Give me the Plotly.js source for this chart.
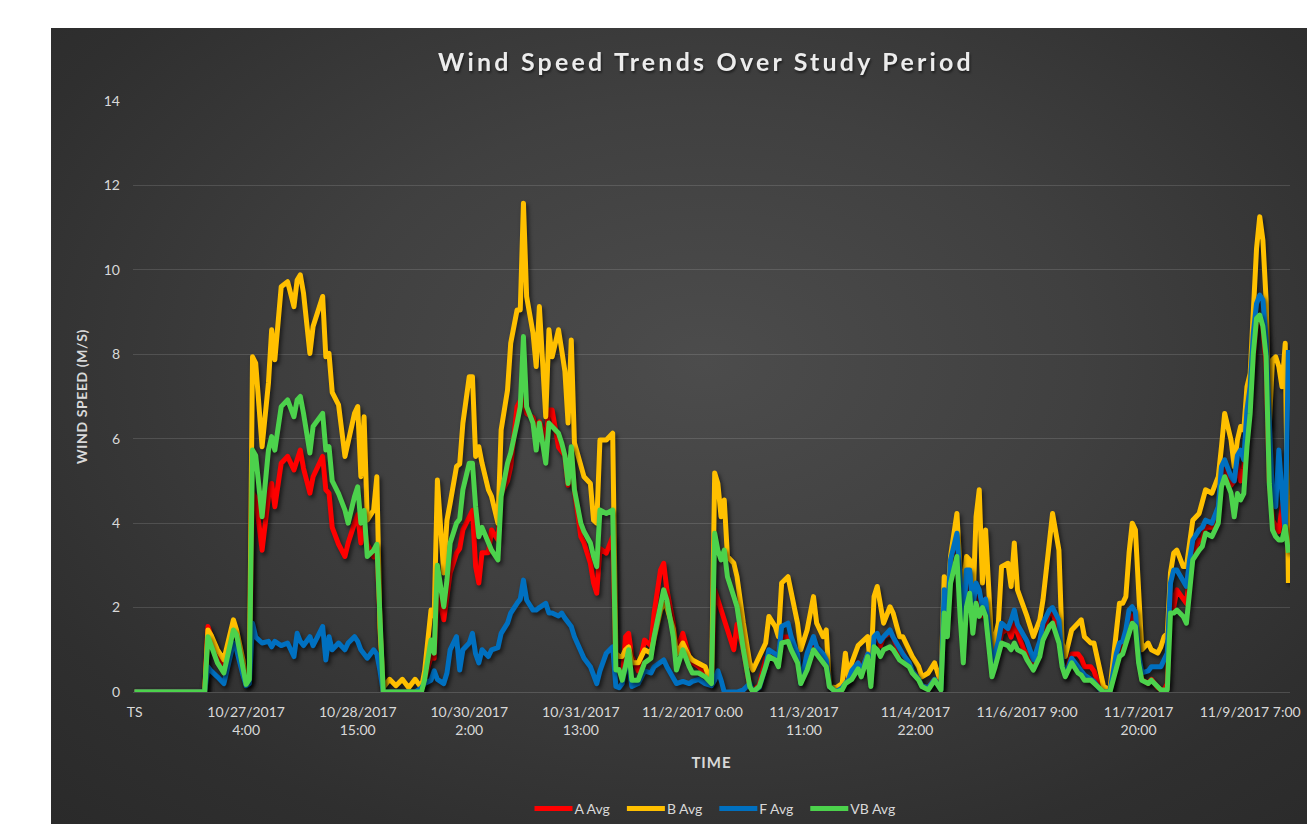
<!DOCTYPE html>
<html>
<head>
<meta charset="utf-8">
<script src="https://cdn.plot.ly/plotly-3.0.1.min.js"></script>
<style>
  html, body { margin: 0; padding: 0; background: #ffffff; }
  #wrap { position: relative; width: 1307px; height: 824px; overflow: hidden; }
  #bg { position: absolute; left: 51px; top: 28px; width: 1256px; height: 796px;
        background: radial-gradient(ellipse 75% 80% at 52% 42%, #4c4c4c 0%, #404040 40%, #2f2f2f 80%, #2a2a2a 100%); }
  #chart { position: absolute; left: 0; top: 0; width: 1307px; height: 824px; }
  #chart .scatterlayer .js-line { filter: drop-shadow(2px 3px 2px rgba(0,0,0,0.6)); stroke-linejoin: round; }
  #chart .gtitle { letter-spacing: 3.2px; filter: drop-shadow(1px 2px 1px rgba(0,0,0,0.5)); }
  #chart .ytitle { letter-spacing: 0.6px; }
  #chart .xtitle { letter-spacing: 1px; }
</style>
</head>
<body>
<div id="wrap">
  <div id="bg"></div>
  <div id="chart"></div>
</div>
<script>
// Hour index since the first record ("TS")
const hours = [0,22,23,24,26,28,31,32,34,35,36,37,38,40,42,43,44,46,48,50,51,52,53,55,56,59,60,61,62,64,66,67,69,70,71,72,73,75,76,77,78,80,82,84,86,88,90,91,93,94,95,97,98,99,101,102,103,105,106,107,108,109,111,112,114,115,117,118,120,121,122,123,125,126,127,129,130,131,133,134,135,136,137,138,140,141,143,144,145,146,148,150,151,152,153,154,155,156,158,160,162,163,165,166,167,169,170,172,174,175,177,179,181,182,183,184,185,186,188,189,191,193,194,196,198,199,201,202,203,205,206,208,209,211,213,214,216,217,218,220,222,223,224,225,227,228,230,231,232,233,234,235,237,238,240,241,243,244,246,247,249,251,253,254,255,256,258,259,260,261,262,263,264,265,266,267,269,270,271,272,274,275,276,277,279,280,282,284,285,287,288,290,291,292,294,296,297,298,300,301,303,304,306,308,309,310,311,312,313,314,315,316,318,319,321,322,323,324,325,326,327,329,330,331,332,334,335,336,338,340,341,342,344,345,346,347,348,349,350,351,352,353,354,355,356,357,358,359,360,361,362];

const aAvg = [0,0,1.55,1.3,0.9,0.55,1.55,1.4,0.6,0.2,0.3,4.71,4.6,3.36,4.63,4.94,4.39,5.42,5.58,5.26,5.5,5.73,5.3,4.71,5.1,5.58,4.79,4.71,3.9,3.5,3.21,3.53,4.0,4.2,3.53,3.9,3.5,3.2,3.4,1.5,0,0,0,0,0,0,0,0.3,0.84,0.8,2.4,1.71,2.18,2.82,3.29,3.4,3.84,4.15,4.3,2.97,2.58,3.3,3.3,3.84,3.6,4.7,5.0,5.34,6.76,6.9,6.92,6.6,6.5,6.2,6.4,6.0,6.68,6.68,5.8,5.7,5.6,4.9,5.7,4.79,3.68,3.53,3.05,2.58,2.34,3.4,3.29,3.68,0.6,0.5,0.3,1.31,1.39,0.84,0.5,1.23,1.1,1.87,2.89,3.05,2.42,1.63,1.0,1.39,0.84,0.7,0.6,0.45,0.2,2.42,2.18,2.0,1.79,1.47,1.0,1.6,1.0,0.13,0.05,0.15,0.8,0.8,0.9,0.7,1.3,1.3,1.1,0.8,0.3,0.8,1.2,1.0,0.8,0.7,0.13,0,0.05,0.3,0.25,0.5,0.7,0.5,0.9,0.2,1.3,1.3,1.1,1.3,1.4,1.3,0.92,0.92,0.65,0.5,0.3,0.15,0.1,0.3,0.05,2.2,1.7,2.8,3.3,2.3,1.0,2.5,2.5,2.0,2.0,2.3,1.8,2.2,0.5,0.8,1.0,1.4,1.5,1.3,1.6,1.4,1.0,0.9,0.6,1.0,1.4,1.9,1.9,1.4,0.7,0.4,0.9,0.9,0.8,0.6,0.6,0.5,0.05,0,0,0.7,1.0,1.0,1.3,1.7,1.8,1.7,0.8,0.3,0.2,0.3,0.1,0.05,0.05,0.2,2.42,2.0,2.42,2.18,2.1,2.8,3.3,3.6,3.6,3.9,3.9,4.2,5.0,5.3,4.9,5.0,5.4,5.0,5.3,6.2,7.0,8.0,8.7,8.9,8.6,7.8,5.0,4.07,3.9,3.8,4.39,4.71,4.6];

const bAvg = [0,0,1.47,1.35,1.0,0.76,1.71,1.47,0.76,0.2,0.3,7.94,7.79,5.81,7.32,8.58,7.87,9.6,9.72,9.13,9.76,9.88,9.45,8.02,8.66,9.37,7.94,8.02,7.1,6.8,5.58,5.97,6.6,6.76,5.1,6.52,4.07,4.31,5.1,1.5,0.1,0.3,0.15,0.3,0.1,0.3,0.1,0.5,1.94,1.8,5.02,2.82,4.07,4.47,5.34,5.4,6.37,7.47,7.47,5.58,5.81,5.42,4.79,4.63,4.0,6.21,7.15,8.26,9.05,9.05,11.58,9.37,8.5,7.71,9.13,6.52,8.58,7.94,8.58,8.1,7.6,6.37,8.34,5.9,5.42,5.1,4.94,4.07,4.0,5.97,5.97,6.13,0.92,0.84,0.84,1.0,1.07,0.69,0.69,1.0,0.92,1.31,1.94,2.1,2.0,1.5,0.9,1.16,0.84,0.76,0.69,0.6,0.2,5.19,4.94,4.15,4.55,3.21,3.05,2.73,1.63,0.69,0.52,0.84,1.16,1.79,1.55,1.31,2.58,2.73,2.34,1.63,1.0,1.47,2.26,1.63,1.31,1.47,0.13,0.1,0.2,0.92,0.3,0.69,1.1,1.16,1.31,0.52,2.26,2.5,2.1,1.63,2.02,1.87,1.31,1.31,1.0,0.84,0.6,0.36,0.45,0.69,0.2,2.73,2.1,3.21,4.23,2.89,2.5,3.21,3.13,2.02,4.15,4.79,2.58,3.84,1.0,1.31,1.63,2.97,3.05,2.5,3.53,2.42,2.02,1.79,1.31,1.71,2.18,3.53,4.23,3.36,1.16,0.84,1.47,1.63,1.71,1.31,1.16,1.16,0.5,0.13,0.05,1.5,2.1,2.1,2.26,3.29,4.0,3.84,2.26,1.0,1.16,1.0,0.92,1.07,1.31,1.39,2.82,3.29,3.36,2.97,2.97,3.45,4.07,4.23,4.47,4.79,4.71,5.1,5.81,6.6,5.97,5.34,5.97,6.29,6.2,7.23,7.55,9.29,10.5,11.26,10.7,9.29,6.29,7.87,7.94,7.71,7.23,8.26,2.58];

const fAvg = [0,0,0.6,0.5,0.36,0.2,1.16,1.0,0.4,0.15,0.2,1.63,1.3,1.16,1.2,1.07,1.2,1.1,1.16,0.84,1.39,1.2,1.1,1.31,1.1,1.55,0.76,1.31,1.0,1.16,1.0,1.16,1.31,1.2,1.0,0.9,0.8,1.0,0.9,0.5,0,0,0,0,0,0,0.1,0.2,0.28,0.5,0.3,0.2,0.45,1.0,1.31,0.52,1.0,1.16,1.39,0.9,0.69,1.0,0.84,1.0,1.05,1.39,1.63,1.87,2.1,2.2,2.65,2.18,1.94,1.94,2.0,2.1,1.87,1.87,1.8,1.87,1.75,1.63,1.55,1.31,1.0,0.8,0.6,0.36,0.2,0.5,0.92,1.07,0.13,0.1,0.2,0.6,0.69,0.13,0.2,0.5,0.45,0.6,0.69,0.76,0.6,0.36,0.2,0.25,0.2,0.25,0.3,0.2,0.15,0.28,0.5,0.28,0,0,0,0,0.05,0.2,0,0.1,0.6,1.0,0.9,0.8,1.55,1.63,1.31,0.9,0.2,0.92,1.31,1.07,0.9,0.76,0.13,0,0.1,0.2,0.3,0.5,0.69,0.5,0.9,0.2,1.31,1.39,1.2,1.31,1.47,1.3,1.0,0.9,0.7,0.5,0.3,0.15,0.1,0.3,0.05,2.42,1.79,3.13,3.76,2.4,1.55,2.89,2.89,2.0,2.58,2.42,2.0,2.2,0.69,0.92,1.2,1.63,1.5,1.7,1.94,1.6,1.31,1.2,0.76,1.2,1.63,1.94,2.0,1.7,0.69,0.4,0.8,0.6,0.5,0.4,0.3,0.25,0.05,0,0,0.9,1.16,1.2,1.47,1.94,2.02,1.9,0.9,0.45,0.5,0.6,0.6,0.6,0.76,0.92,2.58,2.89,2.89,2.65,2.5,3.13,3.6,3.84,3.9,4.07,4.0,4.39,5.34,5.5,5.1,5.0,5.6,5.73,5.5,6.68,7.23,8.5,9.2,9.4,9.29,8.34,6.13,4.55,4.39,5.73,4.71,3.76,8.1];

const vbAvg = [0,0,1.31,1.1,0.69,0.45,1.47,1.35,0.5,0.18,0.3,5.73,5.6,4.15,5.73,6.05,5.73,6.76,6.92,6.52,6.92,7.0,6.6,5.66,6.29,6.6,5.73,5.81,5.0,4.7,4.31,4.0,4.63,4.86,4.0,4.3,3.21,3.36,3.5,1.5,0,0,0,0,0,0,0,0.3,1.23,0.92,3.0,2.02,2.65,3.53,4.0,4.1,4.79,5.42,5.42,4.39,3.68,3.9,3.53,3.36,3.13,4.63,5.42,5.66,6.37,6.76,8.42,6.76,6.37,5.73,6.37,5.42,6.37,6.3,6.13,5.9,5.6,4.94,5.81,4.79,4.0,3.8,3.53,3.21,2.97,4.31,4.23,4.31,0.52,0.53,0.28,0.6,1.0,0.28,0.28,0.69,0.8,1.31,2.1,2.42,2.18,1.31,0.52,1.0,0.6,0.45,0.45,0.36,0.2,3.76,3.36,3.13,3.36,2.73,2.26,2.02,1.0,0.13,0,0.13,0.6,0.84,0.76,0.6,1.16,1.2,1.0,0.69,0.2,0.52,1.0,0.9,0.69,0.6,0.13,0,0.05,0.2,0.25,0.3,0.55,0.36,0.84,0.13,1.07,1.0,0.84,1.0,1.07,1.0,0.76,0.7,0.6,0.45,0.28,0.13,0.05,0.28,0.05,1.87,1.31,2.58,3.21,1.79,0.69,2.02,2.34,1.39,2.1,1.79,2.0,1.8,0.36,0.6,0.92,1.16,1.1,1.0,1.16,1.0,0.92,0.76,0.52,0.84,1.23,1.55,1.63,1.16,0.6,0.36,0.69,0.45,0.4,0.28,0.28,0.2,0.05,0,0,0.6,0.84,0.9,1.16,1.47,1.63,1.55,0.69,0.28,0.2,0.28,0.13,0.05,0.05,0.05,1.87,1.87,1.94,1.79,1.63,2.34,3.13,3.36,3.45,3.76,3.68,4.0,4.86,5.1,4.71,4.15,4.7,4.55,4.7,5.81,6.6,8.02,8.85,8.93,8.66,7.94,4.94,3.84,3.68,3.6,3.6,3.92,3.3];

const tickHours = [0,35,70,105,140,175,210,245,280,315,350];
const tickLabels = ['TS','10/27/2017<br>4:00','10/28/2017<br>15:00','10/30/2017<br>2:00','10/31/2017<br>13:00','11/2/2017 0:00','11/3/2017<br>11:00','11/4/2017<br>22:00','11/6/2017 9:00','11/7/2017<br>20:00','11/9/2017 7:00'];

const seriesNames = ['A Avg','B Avg','F Avg','VB Avg'];
const seriesColors = ['#ff0000','#ffc000','#0070c0','#4cd24c'];
const seriesValues = [aAvg, bAvg, fAvg, vbAvg];

const FONT = 'Lato, "Open Sans", sans-serif';
const TXT = '#d9d9d9';

const traces = seriesValues.map((vals, i) => ({
  type: 'scatter', mode: 'lines', name: seriesNames[i],
  x: hours, y: vals,
  line: { color: seriesColors[i], width: 5 },
  hoverinfo: 'x+y+name'
}));

const layout = {
  width: 1307, height: 824,
  margin: { l: 133, r: 17, t: 101, b: 132, pad: 0 },
  paper_bgcolor: 'rgba(0,0,0,0)', plot_bgcolor: 'rgba(0,0,0,0)',
  font: { family: FONT, size: 14, color: TXT },
  title: {
    text: 'Wind Speed Trends Over Study Period',
    font: { family: FONT, size: 25, color: '#ececec', weight: 'bold' },
    xref: 'container', x: 706 / 1307, xanchor: 'center',
    yref: 'container', y: 1 - 62 / 824, yanchor: 'middle'
  },
  xaxis: {
    range: [-0.5, 362.5], tickmode: 'array', tickvals: tickHours, ticktext: tickLabels,
    showgrid: false, zeroline: false, showline: false, ticks: '',
    tickfont: { family: FONT, size: 14, color: TXT }, ticklabelstandoff: 10,
    tickangle: 0, automargin: false, fixedrange: true,
    title: { text: 'TIME', font: { family: FONT, size: 15, color: TXT, weight: 'bold' }, standoff: 20 }
  },
  yaxis: {
    range: [0, 14], dtick: 2, tick0: 0,
    showgrid: true, gridcolor: 'rgba(255,255,255,0.13)', gridwidth: 1,
    zeroline: true, zerolinecolor: 'rgba(255,255,255,0.15)', zerolinewidth: 1,
    showline: false, ticks: '',
    tickfont: { family: FONT, size: 14, color: TXT }, ticklabelstandoff: 12,
    automargin: false, fixedrange: true,
    title: { text: 'WIND SPEED (M/S)', font: { family: FONT, size: 14, color: TXT, weight: 'bold' }, standoff: 12 }
  },
  showlegend: true,
  legend: {
    orientation: 'h', xref: 'paper', x: 0.5, xanchor: 'center',
    yref: 'container', y: 1 - 809 / 824, yanchor: 'middle',
    font: { family: FONT, size: 14, color: TXT }, bgcolor: 'rgba(0,0,0,0)',
    itemwidth: 42, traceorder: 'normal'
  }
};

Plotly.newPlot('chart', traces, layout, { displayModeBar: false, responsive: false }).then(gd => {
  // lengthen legend line samples so they reach the label, as in the reference
  gd.querySelectorAll('.legend .traces').forEach(g => {
    const t = g.querySelector('text.legendtext');
    const p = g.querySelector('path.js-line');
    if (!t || !p) return;
    const tx = parseFloat(t.getAttribute('x')) || 40;
    p.setAttribute('d', 'M' + (tx - 40) + ',0h38');
  });
});
</script>
</body>
</html>
